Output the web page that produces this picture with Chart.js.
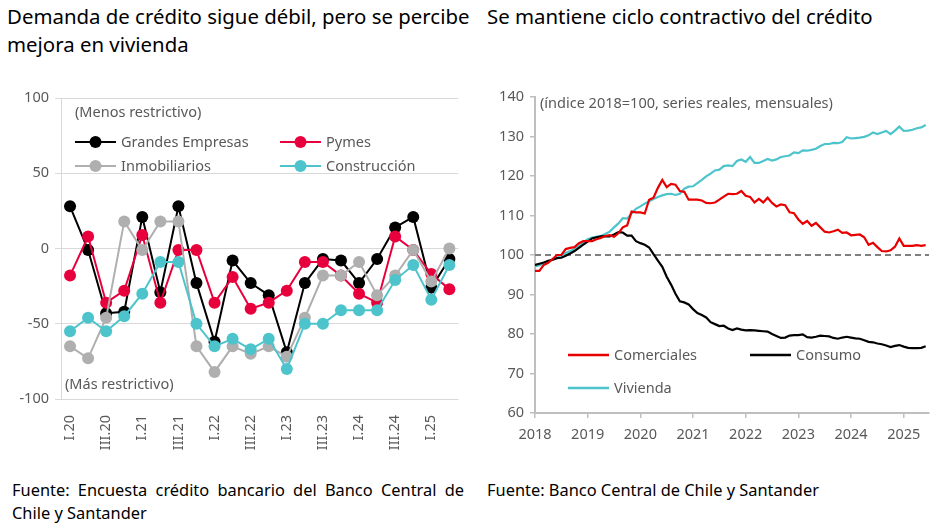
<!DOCTYPE html>
<html lang="es">
<head>
<meta charset="utf-8">
<script src="https://cdn.jsdelivr.net/npm/chart.js@4.4.1/dist/chart.umd.min.js"></script>
<style>
  body { margin: 0; width: 936px; height: 527px; background: #fff; position: relative; overflow: hidden; font-family: "Noto Sans", sans-serif; }
  .title { position: absolute; font-size: 20.4px; line-height: 28px; color: #000; white-space: nowrap; }
  .source { position: absolute; font-size: 16.4px; line-height: 23px; color: #000; white-space: nowrap; }
  .box { position: absolute; }
</style>
</head>
<body>
<div class="title" style="left:7px; top:2px;">Demanda de crédito sigue débil, pero se percibe<br>mejora en vivienda</div>
<div class="title" style="left:487px; top:2px;">Se mantiene ciclo contractivo del crédito</div>

<div class="box" style="left:0; top:80px; width:475px; height:380px;"><canvas id="surveyChart"></canvas></div>
<div class="box" style="left:480px; top:80px; width:456px; height:380px;"><canvas id="indexChart"></canvas></div>

<div class="source" style="left:12px; top:478px; width:452px; text-align:justify; text-align-last:justify;">Fuente: Encuesta crédito bancario del Banco Central de</div>
<div class="source" style="left:12px; top:501px;">Chile y Santander</div>
<div class="source" style="left:487px; top:478px;">Fuente: Banco Central de Chile y Santander</div>

<script>
// --- Encuesta de crédito bancario (demanda, trimestral) ---
const quarters = ['I.20', 'II.20', 'III.20', 'IV.20', 'I.21', 'II.21', 'III.21', 'IV.21',
  'I.22', 'II.22', 'III.22', 'IV.22', 'I.23', 'II.23', 'III.23', 'IV.23',
  'I.24', 'II.24', 'III.24', 'IV.24', 'I.25', 'II.25'];
const grandesEmpresas = [28, -1, -43, -42, 21, -29, 28, -23, -62, -8, -23, -31, -69, -23, -7, -8, -23, -7, 14, 21, -26, -7];
const pymes = [-18, 8, -36, -28, 9, -36, -1, -1, -36, -19, -40, -36, -28, -9, -9, -18, -30, -36, 8, -1, -17, -27];
const inmobiliarios = [-65, -73, -46, 18, -1, 18, 18, -65, -82, -65, -70, -65, -72, -46, -18, -18, -9, -31, -18, -1, -22, 0];
const construccion = [-55, -46, -55, -45, -30, -9, -9, -50, -65, -60, -67, -60, -80, -50, -50, -41, -41, -41, -21, -11, -34, -11];

// --- Colocaciones, índice 2018=100 (mensual, ene-2018 en adelante) ---
const years = [2018, 2019, 2020, 2021, 2022, 2023, 2024, 2025];
const comerciales = [96, 96, 97.5, 98, 99, 100, 100, 101.5, 101.8, 102, 103, 103.5,
  103.5, 103.5, 104, 104.3, 104.8, 105, 104.6, 105.5, 107, 107.5, 111, 110.8,
  110.8, 110.5, 114, 114.5, 117, 119, 117.2, 118, 117.8, 116.2, 116, 114,
  114, 114, 113.8, 113.2, 113.1, 113.3, 114, 114.8, 115.5, 115.4, 115.5, 116.2,
  115, 114.7, 113.3, 114.2, 113.3, 114.5, 113.2, 112.3, 112.8, 112.6, 110.8, 110.6,
  109, 107.9, 108.6, 107.4, 108.1, 107, 105.9, 105.7, 106, 106.4, 105.6, 105.7,
  105, 105.1, 105.2, 104.5, 102.6, 103.1, 102, 101, 100.9, 101.2, 102.1, 104.2,
  102.3, 102.3, 102.3, 102.5, 102.3, 102.5];
const consumo = [97.5, 97.8, 98.1, 98.5, 98.8, 99.2, 99.3, 99.8, 100.4, 101, 101.8, 102.6,
  103.4, 104.2, 104.5, 104.7, 104.8, 104.7, 105.2, 105.8, 105.7, 104.9, 104.9, 103.5,
  103, 102.6, 101.9, 100.2, 98.6, 97, 94.5, 92.5, 90.2, 88.3, 88, 87.5,
  86.3, 85.3, 84.8, 84.2, 83, 82.5, 82, 82.1, 81.4, 81, 81.4, 81.1,
  80.9, 81, 80.9, 80.8, 80.7, 80.6, 80, 79.5, 79, 79.1, 79.6, 79.7,
  79.7, 79.9, 79.2, 79.1, 79.3, 79.6, 79.5, 79.4, 79, 78.8, 79.1, 79.3,
  79.1, 78.9, 78.8, 78.4, 78, 77.9, 77.6, 77.4, 77.1, 76.7, 77, 77.2,
  76.8, 76.5, 76.4, 76.4, 76.5, 76.9];
const vivienda = [97.1, 97.4, 97.8, 98.3, 98.8, 99.3, 99.9, 100.5, 101, 101.5, 102.3, 103.2,
  104, 104.4, 104.6, 104.8, 105.3, 105.9, 107, 108, 109.3, 109.2, 110.5, 111.7,
  112.3, 113, 113.6, 114.2, 114.7, 115.1, 115.4, 115.5, 115.2, 115.5, 116.8, 117.3,
  117.4, 118.2, 119, 119.9, 120.6, 121.4, 121.6, 122.5, 122.7, 122.5, 123.8, 124.2,
  123.6, 124.8, 123.3, 123.3, 123.8, 124.3, 123.9, 124.2, 124.8, 125, 125.2, 126,
  125.8, 126.5, 126.4, 126.6, 126.9, 127.6, 128.1, 128.1, 128.4, 128.3, 128.6, 129.8,
  129.5, 129.6, 129.7, 129.9, 130.3, 131, 130.6, 131, 131.4, 130.6, 131.5, 132.5,
  131.4, 131.5, 131.7, 132.1, 132.3, 132.9];
const baseLevel = [100, 100];

const BLACK = '#000000';
const RED_PYME = '#e8003d';
const GRAY = '#afafaf';
const CYAN = '#4dc4cc';
const RED = '#e80000';
const TEXT = '#595959';
const FONT = '"Noto Sans", sans-serif';

Chart.defaults.font.family = FONT;
Chart.defaults.color = TEXT;

// month index -> fractional year for the date axis
const monthX = i => 2018 + i / 12;
const toXY = arr => arr.map((v, i) => ({ x: monthX(i), y: v }));

// legend + notes drawn inside the plot, Excel style
const inPlotLegend = {
  id: 'inPlotLegend',
  afterDraw(chart, args, opts) {
    const ctx = chart.ctx;
    ctx.save();
    ctx.font = '14.5px ' + FONT;
    ctx.textBaseline = 'middle';
    ctx.fillStyle = TEXT;
    (opts.notes || []).forEach(n => ctx.fillText(n.text, n.x, n.y));
    (opts.items || []).forEach(it => {
      ctx.strokeStyle = it.color;
      ctx.lineWidth = it.lineWidth || 2.5;
      ctx.beginPath();
      ctx.moveTo(it.x, it.y);
      ctx.lineTo(it.x + 41, it.y);
      ctx.stroke();
      if (it.marker) {
        ctx.fillStyle = it.color;
        ctx.beginPath();
        ctx.arc(it.x + 20.5, it.y, 6, 0, Math.PI * 2);
        ctx.fill();
      }
      ctx.fillStyle = TEXT;
      ctx.fillText(it.label, it.x + 46, it.y + 1);
    });
    ctx.restore();
  }
};

function seriesLine(label, data, color, order) {
  return {
    label, data, order,
    borderColor: color, backgroundColor: color,
    borderWidth: 2, pointRadius: 6, pointHoverRadius: 6,
    pointBorderWidth: 0, tension: 0
  };
}

new Chart(document.getElementById('surveyChart'), {
  type: 'line',
  data: {
    labels: quarters,
    datasets: [
      seriesLine('Grandes Empresas', grandesEmpresas, BLACK, 3),
      seriesLine('Pymes', pymes, RED_PYME, 2),
      seriesLine('Inmobiliarios', inmobiliarios, GRAY, 1),
      seriesLine('Construcción', construccion, CYAN, 0)
    ]
  },
  options: {
    responsive: true,
    maintainAspectRatio: false,
    animation: false,
    layout: { padding: { top: 18, right: 10, left: 0, bottom: 0 } },
    scales: {
      x: {
        offset: true,
        grid: { display: false },
        border: { display: false },
        ticks: {
          autoSkip: false, minRotation: 90, maxRotation: 90, padding: 8,
          font: { size: 14.5 }, color: TEXT,
          callback: (v, i) => (i % 2 === 0 ? quarters[i] : '')
        },
        afterFit: s => { s.height = 61; }
      },
      y: {
        min: -100, max: 100,
        ticks: { stepSize: 50, padding: 6, font: { size: 14.5 }, color: TEXT },
        grid: { color: '#d9d9d9', lineWidth: 1, tickLength: 6 },
        border: { color: '#d9d9d9' },
        afterFit: s => { s.width = 61; }
      }
    },
    plugins: {
      legend: { display: false },
      tooltip: { enabled: false },
      inPlotLegend: {
        notes: [
          { text: '(Menos restrictivo)', x: 75, y: 33 },
          { text: '(Más restrictivo)', x: 65, y: 305 }
        ],
        items: [
          { label: 'Grandes Empresas', color: BLACK, x: 75, y: 62, marker: true, lineWidth: 2 },
          { label: 'Pymes', color: RED_PYME, x: 280, y: 62, marker: true, lineWidth: 2 },
          { label: 'Inmobiliarios', color: GRAY, x: 75, y: 86, marker: true, lineWidth: 2 },
          { label: 'Construcción', color: CYAN, x: 280, y: 86, marker: true, lineWidth: 2 }
        ]
      }
    }
  },
  plugins: [inPlotLegend]
});

function indexLine(label, data, color) {
  return {
    label, data: toXY(data),
    borderColor: color, backgroundColor: color,
    borderWidth: 2.2, pointRadius: 0, tension: 0
  };
}

new Chart(document.getElementById('indexChart'), {
  type: 'line',
  data: {
    datasets: [
      indexLine('Comerciales', comerciales, RED),
      indexLine('Consumo', consumo, BLACK),
      indexLine('Vivienda', vivienda, CYAN),
      {
        label: 'base', data: [{ x: years[0], y: baseLevel[0] }, { x: 2025.48, y: baseLevel[1] }],
        borderColor: '#7f7f7f', borderWidth: 2, borderDash: [6, 4], pointRadius: 0
      }
    ]
  },
  options: {
    responsive: true,
    maintainAspectRatio: false,
    animation: false,
    layout: { padding: { top: 17, right: 7, left: 0, bottom: 0 } },
    scales: {
      x: {
        type: 'linear',
        min: 2018, max: 2025.48,
        afterBuildTicks: s => { s.ticks = years.map(y => ({ value: y })); },
        ticks: { padding: 8, font: { size: 14.5 }, color: TEXT, maxRotation: 0, callback: v => String(v) },
        grid: { drawOnChartArea: false, color: '#bfbfbf', tickLength: 5, lineWidth: 1.5 },
        border: { color: '#bfbfbf', width: 2 },
        afterFit: s => { s.height = 47; }
      },
      y: {
        min: 60, max: 140,
        ticks: { stepSize: 10, padding: 6, font: { size: 14.5 }, color: TEXT },
        grid: { drawOnChartArea: false, color: '#bfbfbf', tickLength: 5, lineWidth: 1.5 },
        border: { color: '#bfbfbf', width: 2 },
        afterFit: s => { s.width = 55; }
      }
    },
    plugins: {
      legend: { display: false },
      tooltip: { enabled: false },
      inPlotLegend: {
        notes: [
          { text: '(índice 2018=100, series reales, mensuales)', x: 60, y: 24 }
        ],
        items: [
          { label: 'Comerciales', color: RED, x: 88, y: 275, lineWidth: 2.5 },
          { label: 'Consumo', color: BLACK, x: 270, y: 275, lineWidth: 2.5 },
          { label: 'Vivienda', color: CYAN, x: 88, y: 308, lineWidth: 2.5 }
        ]
      }
    }
  },
  plugins: [inPlotLegend]
});
</script>
</body>
</html>
